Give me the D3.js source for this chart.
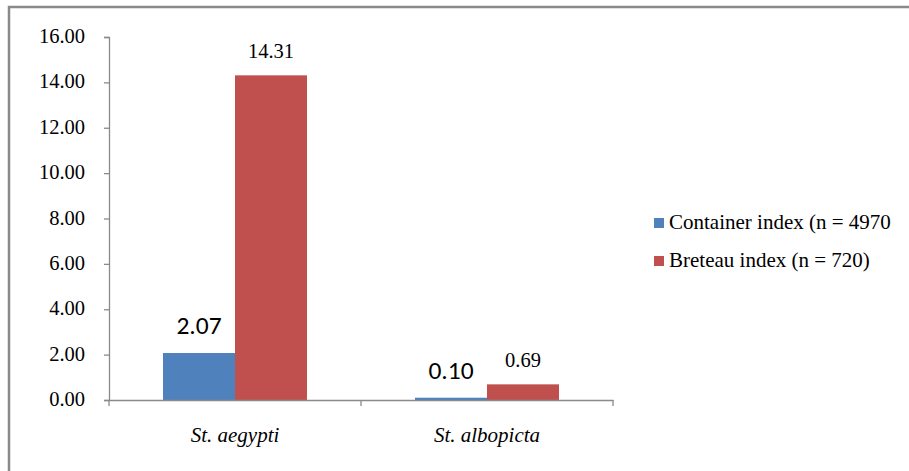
<!DOCTYPE html>
<html><head><meta charset="utf-8">
<script src="https://cdn.jsdelivr.net/npm/d3@7"></script>
</head><body style="margin:0">
<svg id="chart" width="909" height="471"></svg>
<script>
const categories = ["St. aegypti", "St. albopicta"];
const seriesNames = ["Container index (n = 4970", "Breteau index (n = 720)"];
const containerIndex = [2.07, 0.10];
const breteauIndex = [14.31, 0.69];
const yTicks = [0, 2, 4, 6, 8, 10, 12, 14, 16];
const colors = ["#4f81bd", "#c0504d"];

const svg = d3.select("#chart");
const serif = '"Liberation Serif"';
const sans = '"Carlito"';

// outer border
svg.append("rect").attr("x", 9).attr("y", 7).attr("width", 920).attr("height", 480)
  .attr("fill", "#fff").attr("stroke", "#8a8a8a").attr("stroke-width", 2.5);

const plot = {left: 109, right: 613, top: 37, bottom: 400};
const x = d3.scaleBand().domain(categories).range([plot.left, plot.right]).paddingInner(0).paddingOuter(0);
const inner = d3.scaleBand().domain([0, 1]).range([0, x.bandwidth()]).paddingOuter(0.75).paddingInner(0);
const y = d3.scaleLinear().domain([0, 16]).range([plot.bottom, plot.top]);

// y axis
const yAxis = svg.append("g").attr("transform", `translate(${plot.left},0)`)
  .call(d3.axisLeft(y).tickValues(yTicks).tickFormat(d3.format(".2f")).tickSize(5).tickPadding(19));
yAxis.style("font-family", serif).style("font-size", "20.5px");
yAxis.select(".domain").attr("stroke", "#8a8a8a").attr("stroke-width", 1.3);
yAxis.selectAll(".tick line").attr("stroke", "#8a8a8a").attr("stroke-width", 1.3);
yAxis.selectAll(".tick text").attr("fill", "#000").attr("dy", "0.27em");

// bars
const data = [containerIndex, breteauIndex];
const groups = svg.append("g");
categories.forEach((c, ci) => {
  data.forEach((vals, si) => {
    const bx = x(c) + inner(si);
    groups.append("rect").attr("x", bx).attr("width", inner.bandwidth())
      .attr("y", y(vals[ci])).attr("height", y(0) - y(vals[ci])).attr("fill", colors[si]);
  });
});

// x axis
const xAxis = svg.append("g").attr("transform", `translate(0,${plot.bottom})`)
  .call(d3.axisBottom(x).tickSize(0).tickPadding(27));
xAxis.style("font-family", serif).style("font-size", "21px").style("font-style", "italic");
xAxis.select(".domain").attr("stroke", "#8a8a8a").attr("stroke-width", 1.3);
xAxis.selectAll(".tick text").attr("fill", "#000");
// boundary ticks
const bounds = [plot.left].concat(categories.map(c => x(c) + x.bandwidth()));
svg.append("g").selectAll("line").data(bounds).join("line")
  .attr("x1", d => d).attr("x2", d => d).attr("y1", plot.bottom).attr("y2", plot.bottom + 6)
  .attr("stroke", "#8a8a8a").attr("stroke-width", 1.3);

// data labels
categories.forEach((c, ci) => {
  svg.append("text").attr("x", x(c) + inner(0) + inner.bandwidth() / 2).attr("y", y(containerIndex[ci]) - 19)
    .attr("text-anchor", "middle").style("font-family", sans).style("font-size", "25.5px").attr("fill", "#000")
    .text(containerIndex[ci].toFixed(2));
  svg.append("text").attr("x", x(c) + inner(1) + inner.bandwidth() / 2).attr("y", y(breteauIndex[ci]) - 17)
    .attr("text-anchor", "middle").style("font-family", serif).style("font-size", "20.5px").attr("fill", "#000")
    .text(breteauIndex[ci].toFixed(2));
});

// legend
const legend = svg.append("g").attr("transform", "translate(654,218)");
seriesNames.forEach((n, i) => {
  const g = legend.append("g").attr("transform", `translate(0,${i * 38})`);
  g.append("rect").attr("width", 10).attr("height", 10).attr("fill", colors[i]);
  g.append("text").attr("x", 15).attr("y", 11).style("font-family", serif).style("font-size", "21px").attr("fill", "#000").text(n);
});
</script>
</body></html>
